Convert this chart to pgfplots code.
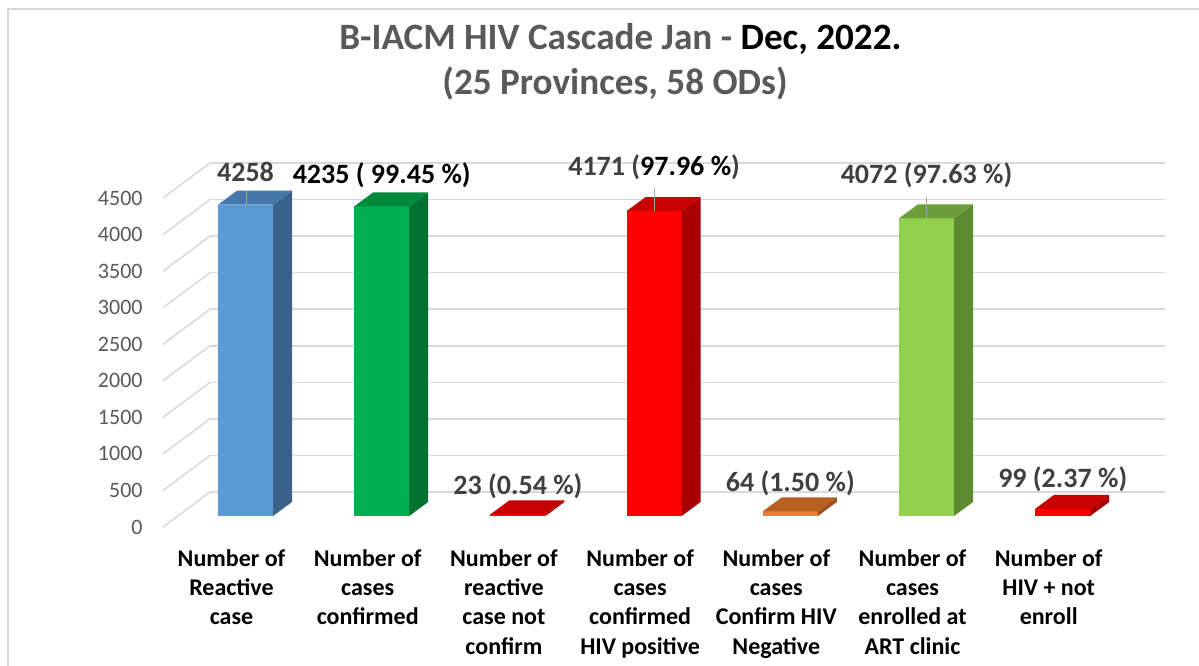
\documentclass[border=0pt]{standalone}
\usepackage{fontspec}
\setmainfont{Carlito}
\usepackage{pgfplots}
\pgfplotsset{compat=1.18}
\usepackage{pgfplotstable}

\definecolor{gridc}{HTML}{D9D9D9}
\definecolor{txtgray}{HTML}{595959}
\definecolor{lblgray}{HTML}{404040}
\definecolor{leadc}{HTML}{A6A6A6}
\definecolor{bluef}{HTML}{5B9BD5}\definecolor{blues}{HTML}{3A638B}\definecolor{bluet}{HTML}{4677AA}
\definecolor{greenf}{HTML}{00B050}\definecolor{greens}{HTML}{00722F}\definecolor{greent}{HTML}{008A3E}
\definecolor{redf}{HTML}{FF0000}\definecolor{reds}{HTML}{A80000}\definecolor{redt}{HTML}{C80000}
\definecolor{orangef}{HTML}{ED7D31}\definecolor{oranges}{HTML}{9C5020}\definecolor{oranget}{HTML}{B85F22}
\definecolor{limef}{HTML}{92D050}\definecolor{limes}{HTML}{5E8A32}\definecolor{limet}{HTML}{6E9E3C}

% corner flags of a parallelogram face
\pgfplotstableread{
a b
0 0
1 0
1 1
0 1
}\corners

\newcommand{\bw}{0.2019}   % half bar width (axis units)
\newcommand{\ddx}{0.1395}  % depth offset x (axis units)
\newcommand{\ddy}{191.5}   % depth offset y (axis units)

% #1 position, #2 value, #3 front, #4 side, #5 top, #6 label, #7 label shift
\newcommand{\threedbar}[7]{%
  \addplot[ybar, bar width=0.4038, bar shift=0pt, fill=#3, draw=none,
    nodes near coords={#6},
    nodes near coords style={anchor=center, yshift=#7, text=lblgray,
      font=\bfseries\fontsize{14pt}{16pt}\selectfont}]
    coordinates {(#1,#2)};
  \addplot[fill=#4, draw=none] table[x expr={#1+\bw+\thisrow{a}*\ddx},
    y expr={\thisrow{b}*#2+\thisrow{a}*\ddy}] {\corners};
  \addplot[fill=#5, draw=none] table[x expr={#1+(2*\thisrow{a}-1)*\bw+\thisrow{b}*\ddx},
    y expr={#2+\thisrow{b}*\ddy}] {\corners};
}

\begin{document}
\begin{tikzpicture}
\useasboundingbox (0,0) rectangle (599.5pt,332.5pt);
\fill[white] (0,0) rectangle (599.5pt,332.5pt);
\draw[gridc, line width=0.75pt] (4pt,-2pt) -- (4pt,328pt) -- (602pt,328pt);

\node[anchor=base, text=txtgray, font=\bfseries\fontsize{18.6pt}{22pt}\selectfont]
  at (310.25pt,307.5pt) {B-IACM HIV Cascade Jan - {\color{black}Dec, 2022.}};
\node[anchor=base, text=txtgray, font=\bfseries\fontsize{18.6pt}{22pt}\selectfont]
  at (307.5pt,285pt) {(25 Provinces, 58 ODs)};

\begin{axis}[
  at={(89pt,74.5pt)}, anchor=south west,
  scale only axis, width=477.5pt, height=164.5pt,
  xmin=-0.4956, xmax=6.516, ymin=0, ymax=4500,
  clip=false,
  axis line style={draw=none},
  major tick length=0pt,
  ytick={0,500,...,4500},
  ymajorgrids,
  major grid style={draw=gridc, line width=0.75pt, xshift=16pt, yshift=12pt},
  /pgf/number format/1000 sep={},
  /pgf/number format/assume math mode=true,
  yticklabel style={anchor=east, inner sep=0pt, xshift=-17.5pt, yshift=-5.5pt,
    text=txtgray, font=\fontsize{11pt}{13pt}\selectfont},
  xtick={0,1,2,3,4,5,6},
  xticklabels={{Number of\\Reactive\\case},
               {Number of\\cases\\confirmed},
               {Number of\\reactive\\case not\\confirm},
               {Number of\\cases\\confirmed\\HIV positive},
               {Number of\\cases\\Confirm HIV\\Negative},
               {Number of\\cases\\enrolled at\\ART clinic},
               {Number of\\HIV + not\\enroll}},
  xticklabel style={anchor=north, align=center, inner sep=0pt, yshift=-16.5pt, xshift=-7pt,
    text=black, font=\bfseries\fontsize{12pt}{14.65pt}\selectfont},
]
\pgfplotsinvokeforeach{0,500,1000,1500,2000,2500,3000,3500,4000,4500}{
  \draw[gridc, line width=0.75pt] (axis cs:-0.4956,#1) ++(16pt,12pt) -- ++(-23.5pt,-17.5pt);
}

\threedbar{0}{4258}{bluef}{blues}{bluet}{4258}{16.3pt}
\threedbar{1}{4235}{greenf}{greens}{greent}{{\color{black}4235 ( 99.45 \%)}}{15.5pt}
\threedbar{2}{23}{redf}{reds}{redt}{23 (0.54 \%)}{13.9pt}
\threedbar{3}{4171}{redf}{reds}{redt}{4171 ({\color{black}97.96 \%})}{21.8pt}
\threedbar{4}{64}{orangef}{oranges}{oranget}{64 (1.50 \%)}{14pt}
\threedbar{5}{4072}{limef}{limes}{limet}{4072 (97.63 \%)}{21.6pt}
\threedbar{6}{99}{redf}{reds}{redt}{99 (2.37 \%)}{15pt}

\draw[leadc, line width=0.6pt] (axis cs:0.01,4258) -- ++(0pt,6.6pt);
\draw[leadc, line width=0.6pt] (axis cs:3,4171) -- ++(0pt,11.7pt);
\draw[leadc, line width=0.6pt] (axis cs:5,4072) -- ++(0pt,10.8pt);
\end{axis}
\end{tikzpicture}
\end{document}
